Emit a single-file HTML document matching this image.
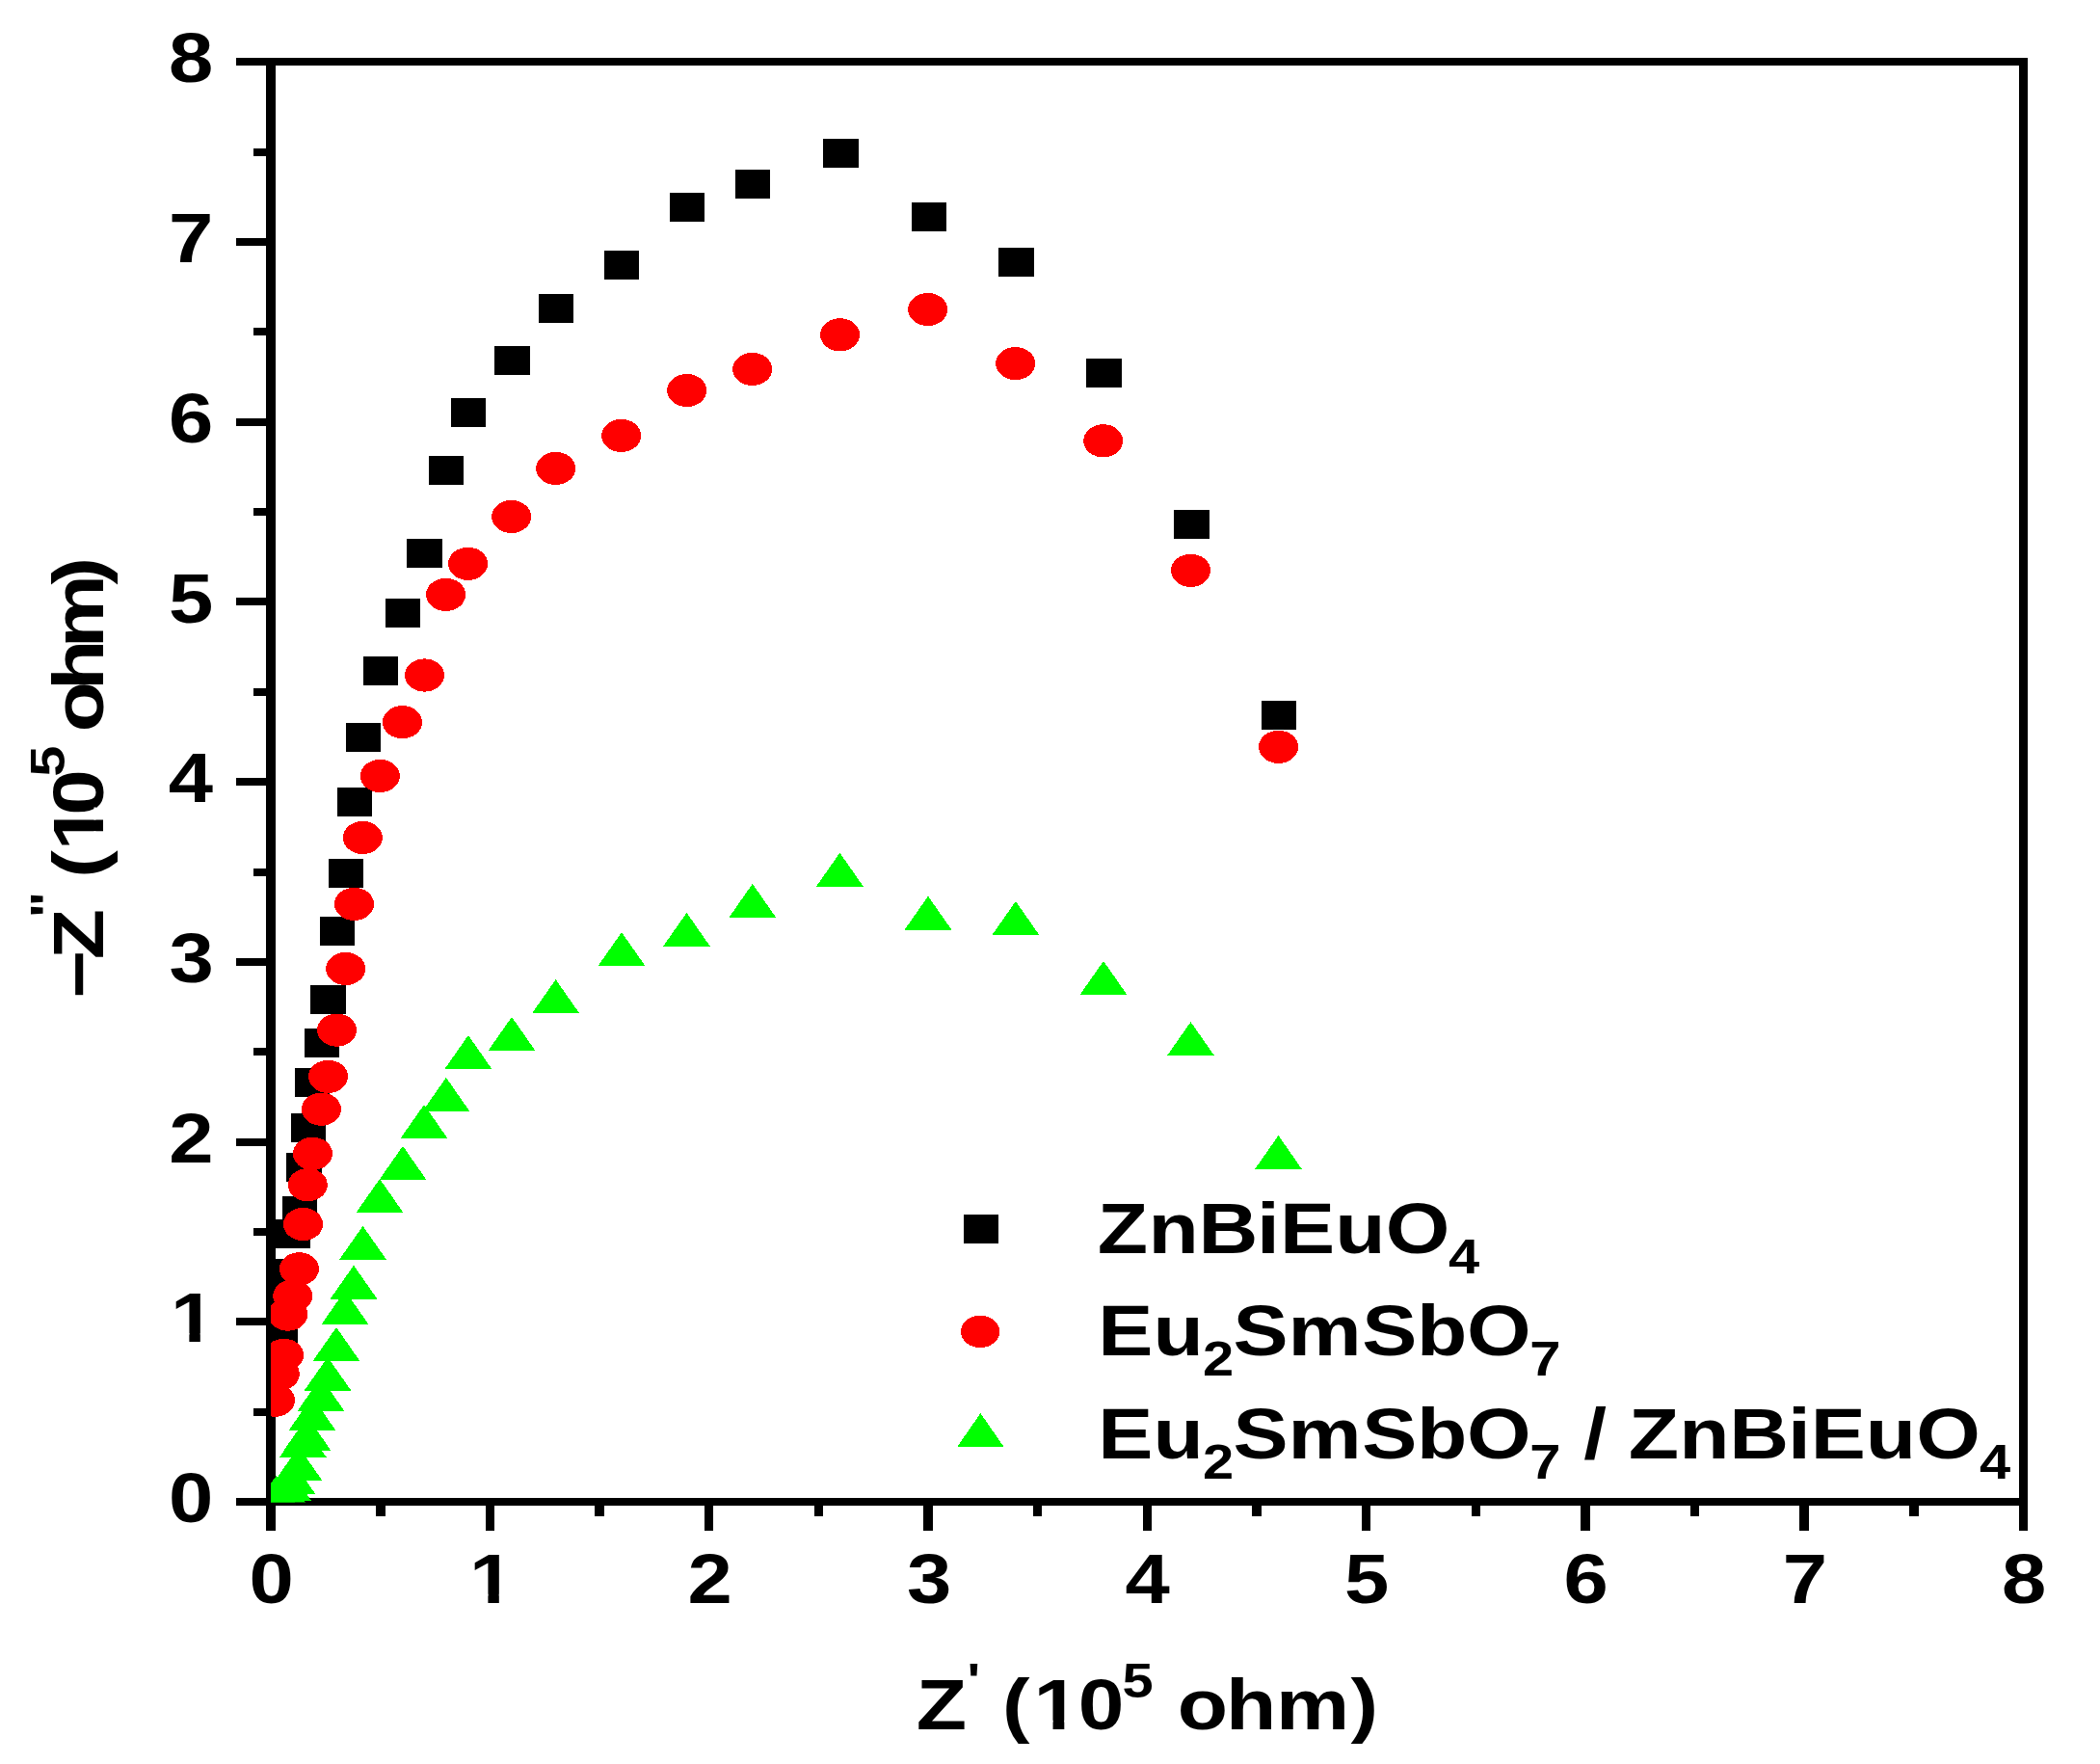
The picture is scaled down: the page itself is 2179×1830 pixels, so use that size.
<!DOCTYPE html>
<html lang="en"><head><meta charset="utf-8"><title>Nyquist plot</title>
<style>html,body{margin:0;padding:0;background:#fff}svg{display:block}text{font-family:"Liberation Sans", sans-serif;font-weight:bold;fill:#000}</style></head><body>
<svg width="2179" height="1830" viewBox="0 0 2179 1830">
<defs><clipPath id="k1"><path clip-rule="evenodd" d="M-4000-4000H4000V4000H-4000ZM158.32,-9.45L172.26,-9.45L172.26,2.50L158.32,2.50ZM182.28,-9.45L195.29,-9.45L195.29,2.50L182.28,2.50Z"/></clipPath><clipPath id="k2"><path clip-rule="evenodd" d="M-4000-4000H4000V4000H-4000ZM430.27,-9.45L444.21,-9.45L444.21,2.50L430.27,2.50ZM454.22,-9.45L467.23,-9.45L467.23,2.50L454.22,2.50Z"/></clipPath><clipPath id="k3"><path clip-rule="evenodd" d="M-4000-4000H4000V4000H-4000ZM930.19,-9.55L944.30,-9.55L944.30,2.50L930.19,2.50ZM954.45,-9.55L967.62,-9.55L967.62,2.50L954.45,2.50Z"/></clipPath><clipPath id="k4"><path clip-rule="evenodd" d="M-4000-4000H4000V4000H-4000ZM-759.44,-9.55L-745.33,-9.55L-745.33,2.50L-759.44,2.50ZM-735.18,-9.55L-723.81,-9.55L-723.81,-6.55L-722.01,-2.00L-722.01,2.50L-735.18,2.50Z"/></clipPath><clipPath id="plotclip"><rect x="281.0" y="64.2" width="1818.5" height="1494.3"/></clipPath></defs>
<rect x="0" y="0" width="2179" height="1830" fill="#fff"/>
<g fill="#000" shape-rendering="crispEdges">
<rect x="276" y="60" width="10" height="1528"/>
<rect x="2095" y="60" width="9" height="1528"/>
<rect x="245" y="60" width="1859" height="8"/>
<rect x="245" y="1554" width="1859" height="8"/>
<rect x="245" y="1554.0" width="32" height="8"/>
<rect x="263" y="1460.6" width="14" height="8"/>
<rect x="245" y="1367.3" width="32" height="8"/>
<rect x="263" y="1273.9" width="14" height="8"/>
<rect x="245" y="1180.5" width="32" height="8"/>
<rect x="263" y="1087.2" width="14" height="8"/>
<rect x="245" y="993.8" width="32" height="8"/>
<rect x="263" y="900.5" width="14" height="8"/>
<rect x="245" y="807.1" width="32" height="8"/>
<rect x="263" y="713.7" width="14" height="8"/>
<rect x="245" y="620.4" width="32" height="8"/>
<rect x="263" y="527.0" width="14" height="8"/>
<rect x="245" y="433.7" width="32" height="8"/>
<rect x="263" y="340.3" width="14" height="8"/>
<rect x="245" y="246.9" width="32" height="8"/>
<rect x="263" y="153.6" width="14" height="8"/>
<rect x="245" y="60.2" width="32" height="8"/>
<rect x="276.2" y="1560" width="9.6" height="28"/>
<rect x="390.0" y="1560" width="9.5" height="13"/>
<rect x="503.5" y="1560" width="9.6" height="28"/>
<rect x="617.3" y="1560" width="9.5" height="13"/>
<rect x="730.8" y="1560" width="9.6" height="28"/>
<rect x="844.6" y="1560" width="9.5" height="13"/>
<rect x="958.1" y="1560" width="9.6" height="28"/>
<rect x="1071.9" y="1560" width="9.5" height="13"/>
<rect x="1185.5" y="1560" width="9.6" height="28"/>
<rect x="1299.2" y="1560" width="9.5" height="13"/>
<rect x="1412.8" y="1560" width="9.6" height="28"/>
<rect x="1526.5" y="1560" width="9.5" height="13"/>
<rect x="1640.1" y="1560" width="9.6" height="28"/>
<rect x="1753.8" y="1560" width="9.5" height="13"/>
<rect x="1867.4" y="1560" width="9.6" height="28"/>
<rect x="1981.1" y="1560" width="9.5" height="13"/>
<rect x="2095" y="1560" width="9" height="28"/>
</g>
<text transform="translate(0,1579.1) scale(1.140,1)" xml:space="preserve"><tspan x="153.61" y="0.0" font-size="73">0</tspan></text>
<text transform="translate(0,1392.4) scale(1.140,1)" xml:space="preserve" clip-path="url(#k1)"><tspan x="155.23" y="0.0" font-size="73">1</tspan></text>
<text transform="translate(0,1205.6) scale(1.140,1)" xml:space="preserve"><tspan x="153.76" y="0.0" font-size="73">2</tspan></text>
<text transform="translate(0,1018.9) scale(1.140,1)" xml:space="preserve"><tspan x="154.04" y="0.0" font-size="73">3</tspan></text>
<text transform="translate(0,832.2) scale(1.140,1)" xml:space="preserve"><tspan x="153.20" y="0.0" font-size="73">4</tspan></text>
<text transform="translate(0,645.5) scale(1.140,1)" xml:space="preserve"><tspan x="153.45" y="0.0" font-size="73">5</tspan></text>
<text transform="translate(0,458.8) scale(1.140,1)" xml:space="preserve"><tspan x="153.54" y="0.0" font-size="73">6</tspan></text>
<text transform="translate(0,272.0) scale(1.140,1)" xml:space="preserve"><tspan x="153.60" y="0.0" font-size="73">7</tspan></text>
<text transform="translate(0,85.3) scale(1.140,1)" xml:space="preserve"><tspan x="153.52" y="0.0" font-size="73">8</tspan></text>
<text transform="translate(0,1663.3) scale(1.140,1)" xml:space="preserve"><tspan x="226.86" y="0.0" font-size="73">0</tspan></text>
<text transform="translate(0,1663.3) scale(1.140,1)" xml:space="preserve" clip-path="url(#k2)"><tspan x="427.17" y="0.0" font-size="73">1</tspan></text>
<text transform="translate(0,1663.3) scale(1.140,1)" xml:space="preserve"><tspan x="625.80" y="0.0" font-size="73">2</tspan></text>
<text transform="translate(0,1663.3) scale(1.140,1)" xml:space="preserve"><tspan x="825.48" y="0.0" font-size="73">3</tspan></text>
<text transform="translate(0,1663.3) scale(1.140,1)" xml:space="preserve"><tspan x="1024.04" y="0.0" font-size="73">4</tspan></text>
<text transform="translate(0,1663.3) scale(1.140,1)" xml:space="preserve"><tspan x="1223.68" y="0.0" font-size="73">5</tspan></text>
<text transform="translate(0,1663.3) scale(1.140,1)" xml:space="preserve"><tspan x="1423.17" y="0.0" font-size="73">6</tspan></text>
<text transform="translate(0,1663.3) scale(1.140,1)" xml:space="preserve"><tspan x="1622.62" y="0.0" font-size="73">7</tspan></text>
<text transform="translate(0,1663.3) scale(1.140,1)" xml:space="preserve"><tspan x="1821.95" y="0.0" font-size="73">8</tspan></text>
<text transform="translate(0,1794.3) scale(1.157,1)" xml:space="preserve" clip-path="url(#k3)"><tspan x="821.66" y="0.0" font-size="74">Z</tspan><tspan x="867.23" y="-33.3" font-size="50">'</tspan><tspan x="879.11 898.92 927.03 967.03" y="0.0" font-size="74"> (10</tspan><tspan x="1006.51" y="-33.3" font-size="50">5</tspan><tspan x="1034.31 1055.92 1099.50 1144.27 1211.27" y="0.0" font-size="74"> ohm)</tspan></text>
<text transform="translate(107.0,0) rotate(-90) scale(1.157,1)" xml:space="preserve" clip-path="url(#k4)"><tspan x="-895.31 -860.23" y="0.0" font-size="74">−Z</tspan><tspan x="-823.00" y="-39.7" font-size="50">&quot;</tspan><tspan x="-799.30 -787.20 -762.60 -730.94" y="0.0" font-size="74"> (10</tspan><tspan x="-696.47" y="-39.7" font-size="50">5</tspan><tspan x="-668.67 -656.22 -618.91 -580.97 -524.21" y="0.0" font-size="74"> ohm)</tspan></text>
<g clip-path="url(#plotclip)">
<g fill="#000" shape-rendering="crispEdges">
<rect x="854.2" y="144.4" width="36.4" height="30.0"/>
<rect x="945.8" y="209.9" width="36.4" height="30.0"/>
<rect x="1036.2" y="256.9" width="36.4" height="30.0"/>
<rect x="1127.4" y="371.9" width="36.4" height="30.0"/>
<rect x="1218.3" y="528.9" width="36.4" height="30.0"/>
<rect x="1308.8" y="727.3" width="36.4" height="30.0"/>
<rect x="762.8" y="175.9" width="36.4" height="30.0"/>
<rect x="694.8" y="200.4" width="36.4" height="30.0"/>
<rect x="626.8" y="259.9" width="36.4" height="30.0"/>
<rect x="558.8" y="305.0" width="36.4" height="30.0"/>
<rect x="513.2" y="359.0" width="36.4" height="30.0"/>
<rect x="467.8" y="413.4" width="36.4" height="30.0"/>
<rect x="444.7" y="473.0" width="36.4" height="30.0"/>
<rect x="422.3" y="559.0" width="36.4" height="30.0"/>
<rect x="399.8" y="621.0" width="36.4" height="30.0"/>
<rect x="376.8" y="681.0" width="36.4" height="30.0"/>
<rect x="358.8" y="750.0" width="36.4" height="30.0"/>
<rect x="349.8" y="817.0" width="36.4" height="30.0"/>
<rect x="340.8" y="891.4" width="36.4" height="30.0"/>
<rect x="331.8" y="950.8" width="36.4" height="30.0"/>
<rect x="322.3" y="1022.0" width="36.4" height="30.0"/>
<rect x="315.8" y="1066.9" width="36.4" height="30.0"/>
<rect x="305.8" y="1108.0" width="36.4" height="30.0"/>
<rect x="301.8" y="1155.0" width="36.4" height="30.0"/>
<rect x="297.1" y="1195.8" width="36.4" height="30.0"/>
<rect x="292.8" y="1241.0" width="36.4" height="30.0"/>
<rect x="285.9" y="1265.0" width="36.4" height="30.0"/>
<rect x="281.8" y="1306.0" width="36.4" height="30.0"/>
<rect x="272.8" y="1370.0" width="36.4" height="30.0"/>
</g><g fill="#f00" shape-rendering="crispEdges">
<ellipse cx="871.6" cy="347.3" rx="20.5" ry="17.1"/>
<ellipse cx="962.7" cy="321.0" rx="20.5" ry="17.1"/>
<ellipse cx="1053.7" cy="377.1" rx="20.5" ry="17.1"/>
<ellipse cx="1144.7" cy="457.3" rx="20.5" ry="17.1"/>
<ellipse cx="1235.5" cy="591.8" rx="20.5" ry="17.1"/>
<ellipse cx="1326.6" cy="774.8" rx="20.5" ry="17.1"/>
<ellipse cx="780.7" cy="382.9" rx="20.5" ry="17.1"/>
<ellipse cx="712.7" cy="405.0" rx="20.5" ry="17.1"/>
<ellipse cx="644.7" cy="451.9" rx="20.5" ry="17.1"/>
<ellipse cx="576.7" cy="485.9" rx="20.5" ry="17.1"/>
<ellipse cx="530.6" cy="536.0" rx="20.5" ry="17.1"/>
<ellipse cx="485.6" cy="584.8" rx="20.5" ry="17.1"/>
<ellipse cx="462.6" cy="616.9" rx="20.5" ry="17.1"/>
<ellipse cx="440.5" cy="700.5" rx="20.5" ry="17.1"/>
<ellipse cx="417.5" cy="749.2" rx="20.5" ry="17.1"/>
<ellipse cx="394.4" cy="805.0" rx="20.5" ry="17.1"/>
<ellipse cx="376.4" cy="869.0" rx="20.5" ry="17.1"/>
<ellipse cx="367.5" cy="937.9" rx="20.5" ry="17.1"/>
<ellipse cx="358.6" cy="1005.0" rx="20.5" ry="17.1"/>
<ellipse cx="349.5" cy="1068.6" rx="20.5" ry="17.1"/>
<ellipse cx="340.5" cy="1116.8" rx="20.5" ry="17.1"/>
<ellipse cx="333.4" cy="1150.7" rx="20.5" ry="17.1"/>
<ellipse cx="324.4" cy="1196.8" rx="20.5" ry="17.1"/>
<ellipse cx="319.3" cy="1229.2" rx="20.5" ry="17.1"/>
<ellipse cx="314.5" cy="1270.0" rx="20.5" ry="17.1"/>
<ellipse cx="310.4" cy="1316.3" rx="20.5" ry="17.1"/>
<ellipse cx="303.7" cy="1344.4" rx="20.5" ry="17.1"/>
<ellipse cx="298.7" cy="1363.6" rx="20.5" ry="17.1"/>
<ellipse cx="294.6" cy="1405.8" rx="20.5" ry="17.1"/>
<ellipse cx="290.3" cy="1425.3" rx="20.5" ry="17.1"/>
<ellipse cx="285.5" cy="1452.7" rx="20.5" ry="17.1"/>
</g><g fill="#0f0" shape-rendering="crispEdges">
<polygon points="847.1,919.5 895.7,919.5 871.4,884.7"/>
<polygon points="938.7,964.5 987.3,964.5 963.0,929.7"/>
<polygon points="1029.6,969.8 1078.2,969.8 1053.9,935.0"/>
<polygon points="1120.7,1031.8 1169.3,1031.8 1145.0,997.0"/>
<polygon points="1211.2,1094.9 1259.8,1094.9 1235.5,1060.1"/>
<polygon points="1302.2,1212.8 1350.8,1212.8 1326.5,1178.0"/>
<polygon points="756.5,951.7 805.1,951.7 780.8,916.9"/>
<polygon points="688.2,981.7 736.8,981.7 712.5,946.9"/>
<polygon points="620.7,1001.9 669.3,1001.9 645.0,967.1"/>
<polygon points="552.3,1050.9 600.9,1050.9 576.6,1016.1"/>
<polygon points="506.7,1089.8 555.3,1089.8 531.0,1055.0"/>
<polygon points="461.6,1108.8 510.2,1108.8 485.9,1074.0"/>
<polygon points="438.6,1152.7 487.2,1152.7 462.9,1117.9"/>
<polygon points="415.7,1180.8 464.3,1180.8 440.0,1146.0"/>
<polygon points="393.7,1223.7 442.3,1223.7 418.0,1188.9"/>
<polygon points="369.7,1257.8 418.3,1257.8 394.0,1223.0"/>
<polygon points="352.2,1306.6 400.8,1306.6 376.5,1271.8"/>
<polygon points="342.7,1347.5 391.3,1347.5 367.0,1312.7"/>
<polygon points="333.7,1373.7 382.3,1373.7 358.0,1338.9"/>
<polygon points="324.7,1411.8 373.3,1411.8 349.0,1377.0"/>
<polygon points="315.7,1442.6 364.3,1442.6 340.0,1407.8"/>
<polygon points="308.7,1463.7 357.3,1463.7 333.0,1428.9"/>
<polygon points="299.7,1483.8 348.3,1483.8 324.0,1449.0"/>
<polygon points="294.6,1504.5 343.2,1504.5 318.9,1469.7"/>
<polygon points="290.1,1511.7 338.7,1511.7 314.4,1476.9"/>
<polygon points="285.6,1535.7 334.2,1535.7 309.9,1500.9"/>
<polygon points="278.6,1549.8 327.2,1549.8 302.9,1515.0"/>
<polygon points="274.5,1556.8 323.1,1556.8 298.8,1522.0"/>
<polygon points="269.7,1560.5 318.3,1560.5 294.0,1525.7"/>
<polygon points="262.3,1565.8 310.9,1565.8 286.6,1531.0"/>
</g></g>
<rect x="1000" y="1259.8" width="36.2" height="30.2" fill="#000" shape-rendering="crispEdges"/>
<ellipse cx="1017.1" cy="1381.4" rx="20.2" ry="16.7" fill="#f00" shape-rendering="crispEdges"/>
<polygon points="993.5,1500.6 1041.3,1500.6 1017.4,1466" fill="#0f0" shape-rendering="crispEdges"/>
<text transform="translate(0,1299.5) scale(1.157,1)" xml:space="preserve"><tspan x="984.32 1029.76 1074.82 1127.09 1147.84 1197.29 1242.60" y="0.0" font-size="74">ZnBiEuO</tspan><tspan x="1298.99" y="21.2" font-size="50">4</tspan></text>
<text transform="translate(0,1405.9) scale(1.157,1)" xml:space="preserve"><tspan x="984.62 1034.16" y="0.0" font-size="74">Eu</tspan><tspan x="1078.71" y="21.2" font-size="50">2</tspan><tspan x="1105.86 1155.20 1221.42 1270.60 1315.47" y="0.0" font-size="74">SmSbO</tspan><tspan x="1371.86" y="21.2" font-size="50">7</tspan></text>
<text transform="translate(0,1512.6) scale(1.157,1)" xml:space="preserve"><tspan x="984.62 1034.16" y="0.0" font-size="74">Eu</tspan><tspan x="1078.71" y="21.2" font-size="50">2</tspan><tspan x="1105.86 1155.20 1221.42 1270.60 1315.47" y="0.0" font-size="74">SmSbO</tspan><tspan x="1371.86" y="21.2" font-size="50">7</tspan><tspan x="1399.67 1420.27 1440.83 1460.38 1505.86 1550.83 1603.24 1623.73 1673.09 1718.40" y="0.0" font-size="74"> / ZnBiEuO</tspan><tspan x="1775.22" y="21.2" font-size="50">4</tspan></text>
</svg></body></html>
